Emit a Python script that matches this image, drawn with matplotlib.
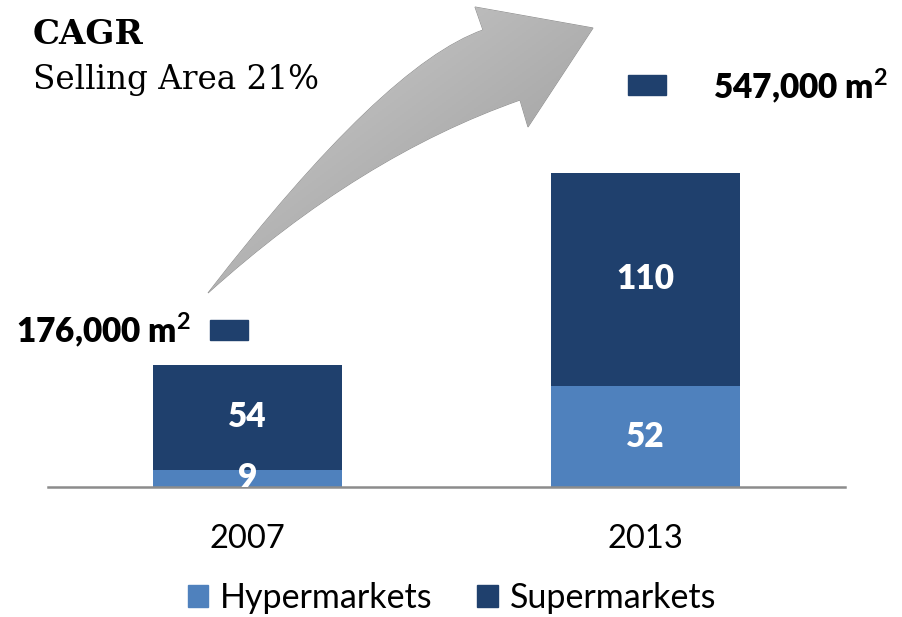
import numpy as np
import matplotlib.pyplot as plt
from matplotlib.patches import Rectangle, PathPatch
from matplotlib.path import Path

plt.rcParams['mathtext.fontset'] = 'custom'
plt.rcParams['mathtext.bf'] = 'Lato:bold'
plt.rcParams['mathtext.rm'] = 'Lato'

# data
years = ['2007', '2013']
hyper = [9, 52]
super_ = [54, 110]
area_labels = [r'176,000 m$^{\mathbf{2}}$', r'547,000 m$^{\mathbf{2}}$']
cagr_title = 'CAGR'
cagr_text = 'Selling Area 21%'

c_hyper = '#4F81BD'
c_super = '#1F406D'
sans = ['Lato', 'DejaVu Sans']

fig = plt.figure(figsize=(9.02, 6.17), dpi=100)
ax = fig.add_axes([48 / 902, 130 / 617, (845 - 48) / 902, 487 / 617])

x = np.arange(len(years))
ax.bar(x, hyper, width=0.475, color=c_hyper, zorder=2)
ax.bar(x, super_, width=0.475, bottom=hyper, color=c_super, zorder=2)

for i in range(len(years)):
    ax.text(x[i], hyper[i] / 2, str(hyper[i]), ha='center', va='center', color='white',
            fontsize=24, fontweight='heavy', family=sans, clip_on=True, zorder=3)
    ax.text(x[i], hyper[i] + super_[i] / 2, str(super_[i]), ha='center', va='center',
            color='white', fontsize=24, fontweight='heavy', family=sans, zorder=3)

ax.set_xlim(-0.5, 1.5)
ax.set_ylim(0, 251)
for s in ['top', 'right', 'left']:
    ax.spines[s].set_visible(False)
ax.spines['bottom'].set_color('#8c8c8c')
ax.spines['bottom'].set_linewidth(1.8)
ax.set_yticks([])
ax.set_xticks(x)
ax.set_xticklabels(years, fontsize=23.5, family=sans)
ax.tick_params(axis='x', length=0, pad=27)

# total area markers
ax.add_patch(Rectangle((-0.046 - 0.048, 81 - 5.2), 0.096, 10.4, color=c_super, clip_on=False))
ax.text(-0.14, 81, area_labels[0], ha='right', va='center', fontsize=24,
        fontweight='heavy', family=sans)
ax.add_patch(Rectangle((1.004 - 0.048, 207 - 5.2), 0.096, 10.4, color=c_super, clip_on=False))
ax.text(1.17, 207, area_labels[1], ha='left', va='center', fontsize=24,
        fontweight='heavy', family=sans)

# legend
h1 = Rectangle((0, 0), 1, 1, color=c_hyper)
h2 = Rectangle((0, 0), 1, 1, color=c_super)
fig.legend([h1, h2], ['Hypermarkets', 'Supermarkets'], loc='center',
           bbox_to_anchor=(452 / 902, 1 - 598 / 617), ncol=2, frameon=False,
           prop={'family': sans, 'size': 24.5}, handlelength=0.6, handleheight=0.65,
           handletextpad=0.35, columnspacing=1.3)

# CAGR text
fig.text(33 / 902, 1 - 35 / 617, cagr_title, fontsize=24.5, fontweight='bold',
         family='DejaVu Serif', va='center')
fig.text(33 / 902, 1 - 80 / 617, cagr_text, fontsize=23.5, family='DejaVu Serif', va='center')

# curved arrow (pixel coordinates overlay)
ov = fig.add_axes([0, 0, 1, 1], zorder=5)
ov.set_xlim(0, 902)
ov.set_ylim(617, 0)
ov.axis('off')
ov.patch.set_alpha(0)

verts = [(208, 293), (384, 65), (483, 30), (475, 7), (593, 28), (528, 127),
         (520, 100), (360, 156), (208, 293), (208, 293)]
codes = [Path.MOVETO, Path.CURVE3, Path.CURVE3, Path.LINETO, Path.LINETO, Path.LINETO,
         Path.LINETO, Path.CURVE3, Path.CURVE3, Path.CLOSEPOLY]
arrow = PathPatch(Path(verts, codes), facecolor='none', edgecolor='#8c8c8c', lw=0.7)
ov.add_patch(arrow)
gx, gy = np.meshgrid(np.linspace(0, 1, 200), np.linspace(0, 1, 200))
shade = 0.82 - 0.24 * (0.5 * gx + 0.5 * gy)
rgb = np.dstack([shade, shade, shade])
img = ov.imshow(rgb, extent=[200, 600, 300, 0], aspect='auto', zorder=1)
img.set_clip_path(arrow)

fig.savefig('out.png', dpi=100)
